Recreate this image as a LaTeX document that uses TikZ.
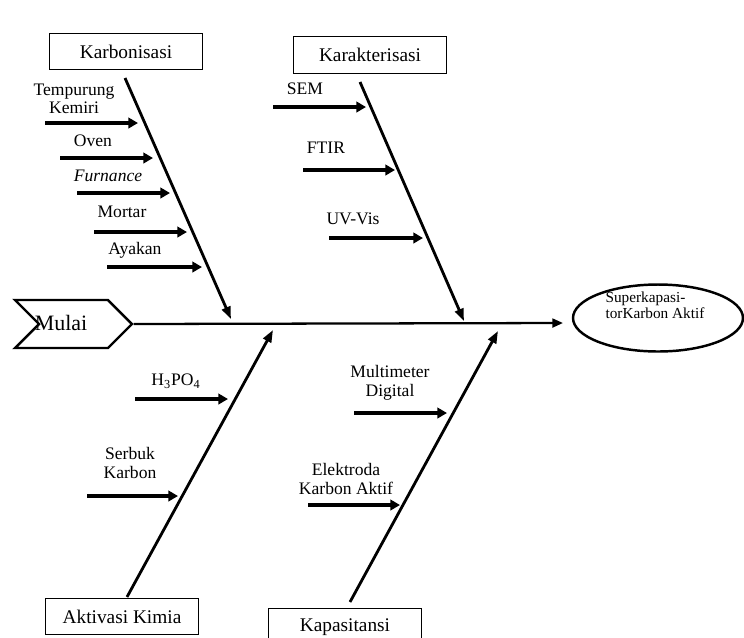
\documentclass[tikz,border=0pt]{standalone}
\usepackage{fontspec}
\setmainfont{Liberation Serif}
\usetikzlibrary{arrows.meta}
\usetikzlibrary{shapes.geometric}
\usetikzlibrary{shapes.symbols}

\begin{document}
\begin{tikzpicture}[x=0.02cm,y=-0.02cm,
   katbox/.style={draw, line width=0.7pt, minimum width=3.06cm, minimum height=0.73cm, inner sep=0pt, font=\fontsize{11}{12}\selectfont},
   bone/.style={line width=1.6pt, -{Triangle[length=7pt,width=5pt]}},
   twig/.style={line width=2.3pt, -{Triangle[length=5.5pt,width=6pt]}},
   cause/.style={inner sep=0pt, align=center, font=\fontsize{10}{10.5}\selectfont}]

   \useasboundingbox (0,0) rectangle (744,637);

   % kepala dan ekor
   \node[signal, signal to=east, signal from=west, draw, line width=1.4pt,
         minimum width=2.34cm, minimum height=0.96cm, inner sep=0pt] (mulai) at (73.5,324) {};
   \node[inner sep=0pt, font=\fontsize{12.5}{14}\selectfont] (mulaitxt) at (61,323) {Mulai};
   \node[ellipse, draw, line width=1.4pt, minimum width=3.4cm, minimum height=1.34cm] (super) at (658,318) {};
   \node[inner sep=0pt, align=left, font=\fontsize{8.7}{7}\selectfont] (supertxt) at (655,305) {Superkapasi-\\torKarbon Aktif};

   \draw[line width=1.3pt, -{Triangle[length=6pt,width=5pt]}] (mulai.east) -- (563,323);

   % kategori
   \node[katbox] (karbon) at (126,51.5) {Karbonisasi};
   \node[katbox] (karakter) at (370,55) {Karakterisasi};
   \node[katbox] (aktivasi) at (122,616.5) {Aktivasi Kimia};
   \node[katbox] (kapasitas) at (345,627) {Kapasitansi};

   \coordinate (kb1) at (125,78);  \coordinate (kb2) at (231,319);
   \coordinate (kr1) at (360,82);  \coordinate (kr2) at (464,321);
   \coordinate (ak1) at (127,597); \coordinate (ak2) at (273,330);
   \coordinate (kp1) at (350,602); \coordinate (kp2) at (498,331);

   \draw[bone] (kb1) -- (kb2);
   \draw[bone] (kr1) -- (kr2);
   \draw[bone] (ak1) -- (ak2);
   \draw[bone] (kp1) -- (kp2);

   % sebab
   \node[cause] (tempurung) at (74,99) {Tempurung\\Kemiri};
   \node[cause] (oven) at (93,141) {Oven};
   \node[cause] (furnance) at (108,176) {\textit{Furnance}};
   \node[cause] (mortar) at (122,212) {Mortar};
   \node[cause] (ayakan) at (135,250) {Ayakan};
   \node[cause] (sem) at (305,89) {SEM};
   \node[cause] (ftir) at (326,148) {FTIR};
   \node[cause] (uvvis) at (353,219) {UV-Vis};
   \node[cause] (asam) at (176,381) {H\textsubscript{3}PO\textsubscript{4}};
   \node[cause] (serbuk) at (130,463) {Serbuk\\Karbon};
   \node[cause] (multi) at (390,383) {Multimeter\\Digital};
   \node[cause] (elektroda) at (346,479) {Elektroda\\Karbon Aktif};

   \foreach \xa/\xb/\y/\n in {45/138/123/1, 60/153/158/2, 77/170/193/3, 94/187/232/4, 107/202/267/5,
                              273/366/107/6, 303/395/170/7, 329/423/238/8,
                              135/228/399/9, 87/178/496/10,
                              354/447/413/11, 308/400/505/12}
   {
     \coordinate (t\n a) at (\xa,\y);
     \coordinate (t\n b) at (\xb,\y);
     \draw[twig] (t\n a) -- (t\n b);
   }

\end{tikzpicture}
\end{document}
